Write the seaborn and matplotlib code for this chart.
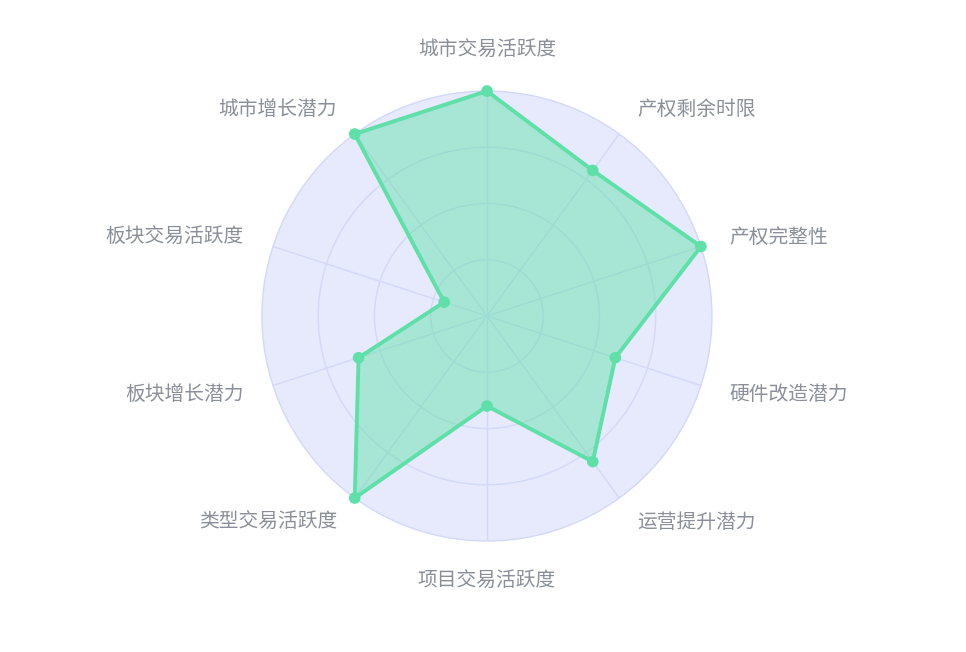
import numpy as np
import pandas as pd
import matplotlib
matplotlib.use("Agg")
import matplotlib.pyplot as plt
import seaborn as sns

# indicator names, clockwise from the top
indicators = ["城市交易活跃度", "产权剩余时限", "产权完整性", "硬件改造潜力", "运营提升潜力",
              "项目交易活跃度", "类型交易活跃度", "板块增长潜力", "板块交易活跃度", "城市增长潜力"]
scores = [5, 4, 5, 3, 4, 2, 5, 3, 1, 5]
max_score = 5

sns.set_theme(style="white")
plt.rcParams['font.family'] = ['Noto Sans CJK SC', 'DejaVu Sans']

n = len(indicators)
angles = np.arange(n) * 2 * np.pi / n
df = pd.DataFrame({"angle": np.append(angles, angles[0]),
                   "score": scores + scores[:1]})

fig = plt.figure(figsize=(9.66, 6.52), dpi=100)
ax = fig.add_axes([0.2712, 0.1702, 0.4658, 0.6902], projection="polar")
ax.set_theta_zero_location("N")
ax.set_theta_direction(-1)
ax.set_ylim(0, max_score)
ax.set_facecolor("#e6eafc")

grid_col = "#d3d9f6"
ax.set_yticks([1.25, 2.5, 3.75])
ax.set_yticklabels([])
ax.set_xticks(angles)
ax.set_xticklabels([])
ax.grid(True, color=grid_col, linewidth=1)
ax.spines["polar"].set_color(grid_col)
ax.spines["polar"].set_linewidth(1)

line_col = "#5ee0a8"
ax.fill(df["angle"], df["score"], color=line_col, alpha=0.46, zorder=2, linewidth=0)
sns.lineplot(data=df, x="angle", y="score", sort=False, ax=ax, color=line_col,
             linewidth=2.8, zorder=3, estimator=None, clip_on=False)
sns.scatterplot(x=angles, y=scores, ax=ax, color=line_col, s=70, edgecolor="none",
                zorder=4, clip_on=False)
ax.set_xlabel("")
ax.set_ylabel("")

label_r = max_score * 1.135
for ang, name in zip(angles, indicators):
    s, c = np.sin(ang), np.cos(ang)
    ha = "center" if abs(s) < 0.01 else ("left" if s > 0 else "right")
    if abs(s) < 0.01:
        va = "bottom" if c > 0 else "top"
    else:
        va = "center"
    ax.text(ang, label_r, name, ha=ha, va=va, fontsize=14.2, color="#8a8f99", clip_on=False)

fig.savefig("out.png", dpi=100)
